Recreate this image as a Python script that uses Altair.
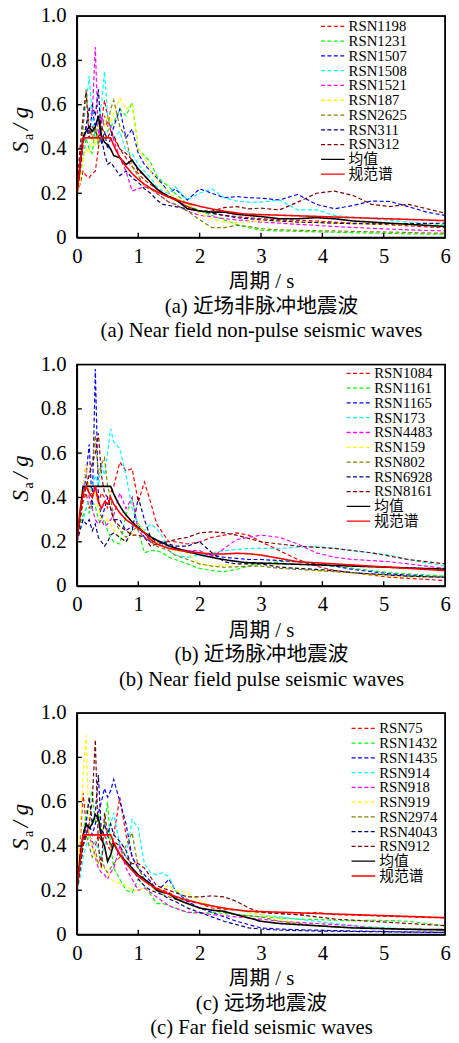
import altair as alt
import pandas as pd

# ---------------- data ----------------
T = [0, 0.05, 0.1, 0.15, 0.2, 0.25, 0.3, 0.35, 0.4, 0.45, 0.5, 0.55, 0.6, 0.7, 0.8, 0.9,
     1.0, 1.1, 1.2, 1.3, 1.4, 1.5, 1.6, 1.8, 2.0, 2.2, 2.4, 2.6, 2.8, 3.0, 3.3, 3.6, 3.9,
     4.2, 4.5, 4.8, 5.1, 5.4, 5.7, 6.0]

CODE_T = [0, 0.1, 0.55, 0.6, 0.65, 0.7, 0.75, 0.8, 0.9, 1.0, 1.1, 1.2, 1.3, 1.5, 1.75,
          2.0, 2.25, 2.5, 2.75, 6.0]
CODE_SA = [0.2025, 0.45, 0.45, 0.416, 0.387, 0.362, 0.340, 0.321, 0.289, 0.263, 0.241,
           0.223, 0.2075, 0.182, 0.159, 0.141, 0.1266, 0.115, 0.106, 0.0765]

# (a) near field non-pulse
A_NAMES = ["RSN1198", "RSN1231", "RSN1507", "RSN1508", "RSN1521", "RSN187", "RSN2625", "RSN311", "RSN312"]
A_RSN1198 = [0.2, 0.24, 0.3, 0.28, 0.27, 0.29, 0.3, 0.4, 0.52, 0.62, 0.55, 0.48, 0.45, 0.4, 0.36, 0.32, 0.29, 0.26, 0.24, 0.22, 0.2, 0.18, 0.17, 0.14, 0.12, 0.11, 0.1, 0.095, 0.09, 0.085, 0.08, 0.078, 0.075, 0.07, 0.065, 0.062, 0.058, 0.053, 0.048, 0.045]
A_RSN1231 = [0.2, 0.28, 0.35, 0.45, 0.4, 0.38, 0.5, 0.42, 0.46, 0.44, 0.48, 0.5, 0.52, 0.58, 0.55, 0.61, 0.4, 0.37, 0.34, 0.28, 0.25, 0.23, 0.2, 0.15, 0.12, 0.1, 0.08, 0.06, 0.045, 0.033, 0.03, 0.028, 0.026, 0.024, 0.022, 0.02, 0.019, 0.017, 0.016, 0.015]
A_RSN1507 = [0.2, 0.3, 0.42, 0.5, 0.45, 0.58, 0.5, 0.55, 0.42, 0.48, 0.4, 0.45, 0.5, 0.58, 0.45, 0.49, 0.38, 0.33, 0.3, 0.27, 0.24, 0.2, 0.22, 0.17, 0.22, 0.2, 0.18, 0.185, 0.18, 0.178, 0.17, 0.195, 0.15, 0.13, 0.145, 0.165, 0.163, 0.14, 0.115, 0.1]
A_RSN1508 = [0.2, 0.35, 0.5, 0.6, 0.73, 0.55, 0.45, 0.52, 0.6, 0.75, 0.55, 0.5, 0.45, 0.48, 0.39, 0.38, 0.33, 0.3, 0.27, 0.23, 0.21, 0.2, 0.23, 0.17, 0.2, 0.22, 0.18, 0.165, 0.16, 0.16, 0.17, 0.125, 0.125, 0.1, 0.092, 0.085, 0.078, 0.07, 0.063, 0.057]
A_RSN1521 = [0.2, 0.28, 0.42, 0.5, 0.58, 0.55, 0.86, 0.45, 0.55, 0.5, 0.52, 0.5, 0.44, 0.36, 0.3, 0.21, 0.22, 0.23, 0.22, 0.2, 0.18, 0.16, 0.15, 0.12, 0.1, 0.095, 0.085, 0.08, 0.075, 0.07, 0.065, 0.06, 0.055, 0.05, 0.046, 0.042, 0.038, 0.035, 0.032, 0.03]
A_RSN187 = [0.2, 0.25, 0.35, 0.4, 0.38, 0.45, 0.42, 0.5, 0.48, 0.5, 0.55, 0.52, 0.56, 0.63, 0.58, 0.6, 0.4, 0.36, 0.3, 0.26, 0.23, 0.2, 0.18, 0.15, 0.11, 0.085, 0.07, 0.068, 0.072, 0.075, 0.072, 0.07, 0.067, 0.065, 0.063, 0.061, 0.06, 0.058, 0.056, 0.055]
A_RSN2625 = [0.2, 0.3, 0.5, 0.67, 0.5, 0.45, 0.5, 0.42, 0.48, 0.55, 0.5, 0.58, 0.62, 0.5, 0.45, 0.32, 0.28, 0.23, 0.22, 0.2, 0.18, 0.16, 0.15, 0.12, 0.08, 0.045, 0.045, 0.055, 0.05, 0.04, 0.035, 0.033, 0.031, 0.03, 0.028, 0.026, 0.025, 0.023, 0.021, 0.02]
A_RSN311 = [0.2, 0.35, 0.45, 0.5, 0.58, 0.6, 0.55, 0.67, 0.45, 0.38, 0.33, 0.34, 0.32, 0.28, 0.3, 0.27, 0.25, 0.22, 0.2, 0.17, 0.15, 0.145, 0.14, 0.13, 0.12, 0.11, 0.1, 0.09, 0.085, 0.08, 0.075, 0.07, 0.068, 0.065, 0.063, 0.062, 0.062, 0.063, 0.064, 0.065]
A_RSN312 = [0.2, 0.4, 0.55, 0.66, 0.45, 0.5, 0.48, 0.45, 0.5, 0.47, 0.45, 0.48, 0.46, 0.4, 0.38, 0.35, 0.3, 0.28, 0.25, 0.22, 0.2, 0.19, 0.17, 0.14, 0.12, 0.12, 0.135, 0.14, 0.13, 0.133, 0.125, 0.16, 0.2, 0.21, 0.19, 0.15, 0.14, 0.15, 0.13, 0.11]
A_MEAN = [0.2, 0.32, 0.45, 0.48, 0.5, 0.48, 0.5, 0.55, 0.46, 0.43, 0.42, 0.4, 0.37, 0.36, 0.33, 0.35, 0.31, 0.28, 0.25, 0.22, 0.2, 0.185, 0.175, 0.13, 0.12, 0.115, 0.115, 0.105, 0.1, 0.095, 0.085, 0.085, 0.09, 0.085, 0.075, 0.07, 0.065, 0.06, 0.055, 0.05]

# (b) near field pulse
B_NAMES = ["RSN1084", "RSN1161", "RSN1165", "RSN173", "RSN4483", "RSN159", "RSN802", "RSN6928", "RSN8161"]
B_RSN1084 = [0.2, 0.3, 0.38, 0.42, 0.35, 0.4, 0.45, 0.38, 0.42, 0.4, 0.35, 0.42, 0.45, 0.56, 0.52, 0.53, 0.38, 0.47, 0.38, 0.28, 0.24, 0.2, 0.2, 0.19, 0.2, 0.22, 0.23, 0.24, 0.23, 0.2, 0.16, 0.12, 0.09, 0.07, 0.06, 0.05, 0.04, 0.035, 0.03, 0.025]
B_RSN1161 = [0.2, 0.28, 0.32, 0.35, 0.33, 0.38, 0.36, 0.3, 0.28, 0.3, 0.25, 0.22, 0.2, 0.19, 0.32, 0.4, 0.25, 0.15, 0.16, 0.16, 0.15, 0.13, 0.12, 0.1, 0.08, 0.07, 0.065, 0.075, 0.09, 0.1, 0.11, 0.11, 0.1, 0.09, 0.08, 0.07, 0.06, 0.055, 0.05, 0.045]
B_RSN1165 = [0.2, 0.3, 0.4, 0.5, 0.64, 0.35, 0.98, 0.4, 0.3, 0.35, 0.4, 0.35, 0.3, 0.3, 0.25, 0.27, 0.28, 0.22, 0.2, 0.2, 0.19, 0.18, 0.17, 0.16, 0.15, 0.14, 0.13, 0.125, 0.12, 0.12, 0.115, 0.11, 0.1, 0.09, 0.075, 0.065, 0.055, 0.05, 0.045, 0.04]
B_RSN173 = [0.2, 0.25, 0.3, 0.35, 0.4, 0.45, 0.5, 0.45, 0.55, 0.5, 0.6, 0.71, 0.65, 0.62, 0.5, 0.35, 0.28, 0.25, 0.28, 0.26, 0.22, 0.16, 0.14, 0.13, 0.14, 0.15, 0.16, 0.165, 0.17, 0.17, 0.17, 0.175, 0.18, 0.17, 0.16, 0.15, 0.14, 0.12, 0.105, 0.09]
B_RSN4483 = [0.2, 0.35, 0.45, 0.55, 0.4, 0.35, 0.3, 0.28, 0.3, 0.27, 0.28, 0.3, 0.32, 0.42, 0.35, 0.4, 0.25, 0.22, 0.2, 0.19, 0.18, 0.17, 0.17, 0.16, 0.16, 0.13, 0.17, 0.21, 0.22, 0.23, 0.22, 0.19, 0.15, 0.13, 0.12, 0.115, 0.11, 0.1, 0.09, 0.08]
B_RSN159 = [0.2, 0.35, 0.45, 0.55, 0.45, 0.4, 0.42, 0.35, 0.3, 0.32, 0.3, 0.28, 0.25, 0.22, 0.2, 0.24, 0.28, 0.25, 0.22, 0.2, 0.18, 0.17, 0.16, 0.15, 0.1, 0.09, 0.095, 0.1, 0.1, 0.1, 0.09, 0.08, 0.07, 0.065, 0.06, 0.05, 0.045, 0.042, 0.04, 0.04]
B_RSN802 = [0.2, 0.3, 0.4, 0.45, 0.5, 0.55, 0.68, 0.5, 0.55, 0.58, 0.45, 0.4, 0.3, 0.25, 0.22, 0.25, 0.27, 0.24, 0.2, 0.18, 0.17, 0.16, 0.14, 0.12, 0.1, 0.09, 0.085, 0.087, 0.09, 0.09, 0.08, 0.075, 0.07, 0.065, 0.06, 0.055, 0.05, 0.045, 0.042, 0.04]
B_RSN6928 = [0.2, 0.25, 0.3, 0.28, 0.3, 0.25, 0.28, 0.22, 0.2, 0.18, 0.2, 0.23, 0.24, 0.22, 0.2, 0.25, 0.4, 0.3, 0.22, 0.2, 0.2, 0.19, 0.18, 0.18, 0.2, 0.15, 0.11, 0.1, 0.1, 0.1, 0.085, 0.08, 0.075, 0.07, 0.06, 0.055, 0.05, 0.045, 0.042, 0.04]
B_RSN8161 = [0.2, 0.3, 0.4, 0.45, 0.5, 0.55, 0.6, 0.69, 0.5, 0.42, 0.4, 0.35, 0.3, 0.27, 0.25, 0.23, 0.23, 0.22, 0.18, 0.19, 0.2, 0.2, 0.21, 0.22, 0.24, 0.245, 0.24, 0.23, 0.215, 0.2, 0.19, 0.18, 0.175, 0.17, 0.16, 0.15, 0.135, 0.12, 0.11, 0.1]
B_RED = [0.2, 0.33, 0.42, 0.45, 0.42, 0.4, 0.45, 0.38, 0.35, 0.38, 0.37, 0.4, 0.37, 0.33, 0.3, 0.28, 0.26, 0.24, 0.21, 0.19, 0.18, 0.17, 0.165, 0.155, 0.15, 0.145, 0.145, 0.148, 0.146, 0.14, 0.125, 0.11, 0.105, 0.1, 0.095, 0.09, 0.085, 0.08, 0.075, 0.07]

# (c) far field
C_NAMES = ["RSN75", "RSN1432", "RSN1435", "RSN914", "RSN918", "RSN919", "RSN2974", "RSN4043", "RSN912"]
C_RSN75 = [0.2, 0.4, 0.64, 0.5, 0.45, 0.42, 0.4, 0.45, 0.42, 0.45, 0.4, 0.38, 0.45, 0.62, 0.45, 0.35, 0.3, 0.25, 0.23, 0.21, 0.2, 0.19, 0.17, 0.15, 0.14, 0.12, 0.115, 0.11, 0.105, 0.1, 0.095, 0.09, 0.1, 0.09, 0.088, 0.085, 0.082, 0.08, 0.077, 0.075]
C_RSN1432 = [0.2, 0.35, 0.45, 0.55, 0.6, 0.65, 0.5, 0.55, 0.45, 0.5, 0.6, 0.4, 0.3, 0.25, 0.2, 0.19, 0.25, 0.22, 0.18, 0.14, 0.14, 0.13, 0.12, 0.1, 0.095, 0.1, 0.095, 0.09, 0.085, 0.08, 0.075, 0.07, 0.068, 0.065, 0.062, 0.065, 0.063, 0.06, 0.05, 0.04]
C_RSN1435 = [0.2, 0.3, 0.4, 0.45, 0.5, 0.45, 0.5, 0.55, 0.6, 0.66, 0.62, 0.65, 0.7, 0.6, 0.5, 0.35, 0.3, 0.27, 0.24, 0.2, 0.22, 0.25, 0.2, 0.15, 0.12, 0.1, 0.08, 0.06, 0.045, 0.03, 0.025, 0.022, 0.02, 0.018, 0.016, 0.015, 0.013, 0.012, 0.011, 0.01]
C_RSN914 = [0.2, 0.25, 0.35, 0.4, 0.45, 0.4, 0.42, 0.38, 0.35, 0.4, 0.45, 0.5, 0.55, 0.4, 0.35, 0.52, 0.48, 0.32, 0.28, 0.27, 0.28, 0.26, 0.2, 0.16, 0.14, 0.13, 0.12, 0.11, 0.1, 0.09, 0.08, 0.07, 0.06, 0.05, 0.04, 0.035, 0.03, 0.025, 0.022, 0.02]
C_RSN918 = [0.2, 0.35, 0.45, 0.5, 0.45, 0.4, 0.35, 0.3, 0.28, 0.27, 0.25, 0.28, 0.3, 0.4, 0.3, 0.25, 0.2, 0.21, 0.19, 0.17, 0.15, 0.13, 0.12, 0.1, 0.1, 0.09, 0.085, 0.08, 0.075, 0.07, 0.06, 0.055, 0.05, 0.045, 0.04, 0.03, 0.025, 0.022, 0.02, 0.02]
C_RSN919 = [0.2, 0.45, 0.72, 0.9, 0.45, 0.4, 0.35, 0.32, 0.3, 0.3, 0.28, 0.25, 0.24, 0.23, 0.22, 0.2, 0.2, 0.21, 0.2, 0.2, 0.21, 0.22, 0.2, 0.19, 0.15, 0.13, 0.12, 0.11, 0.1, 0.09, 0.07, 0.05, 0.04, 0.035, 0.03, 0.03, 0.025, 0.022, 0.02, 0.02]
C_RSN2974 = [0.2, 0.3, 0.4, 0.45, 0.4, 0.35, 0.38, 0.32, 0.35, 0.3, 0.28, 0.3, 0.32, 0.35, 0.4, 0.46, 0.3, 0.25, 0.22, 0.2, 0.18, 0.17, 0.16, 0.14, 0.12, 0.11, 0.1, 0.09, 0.085, 0.08, 0.06, 0.05, 0.04, 0.035, 0.032, 0.03, 0.027, 0.025, 0.022, 0.02]
C_RSN4043 = [0.2, 0.3, 0.4, 0.5, 0.62, 0.5, 0.55, 0.72, 0.45, 0.5, 0.45, 0.5, 0.45, 0.42, 0.38, 0.3, 0.25, 0.22, 0.2, 0.19, 0.18, 0.16, 0.15, 0.12, 0.1, 0.08, 0.06, 0.045, 0.03, 0.025, 0.02, 0.018, 0.016, 0.015, 0.014, 0.013, 0.012, 0.011, 0.01, 0.01]
C_RSN912 = [0.2, 0.3, 0.4, 0.45, 0.5, 0.6, 0.88, 0.4, 0.3, 0.55, 0.45, 0.4, 0.42, 0.4, 0.35, 0.32, 0.32, 0.3, 0.26, 0.22, 0.21, 0.2, 0.19, 0.17, 0.17, 0.175, 0.17, 0.15, 0.12, 0.1, 0.095, 0.09, 0.08, 0.07, 0.065, 0.06, 0.055, 0.05, 0.045, 0.04]
C_MEAN = [0.2, 0.35, 0.45, 0.5, 0.48, 0.5, 0.54, 0.53, 0.43, 0.4, 0.33, 0.36, 0.41, 0.36, 0.33, 0.3, 0.27, 0.25, 0.23, 0.2, 0.19, 0.185, 0.163, 0.14, 0.12, 0.11, 0.105, 0.09, 0.075, 0.06, 0.05, 0.045, 0.04, 0.035, 0.03, 0.028, 0.026, 0.024, 0.023, 0.022]

MEAN_LABEL = "均值"
CODE_LABEL = "规范谱"
COLORS = ["#FF0000", "#00FF00", "#0000FF", "#00FFFF", "#FF00FF", "#FFFF00",
          "#808000", "#000080", "#800000", "#000000", "#FF0000"]
X_TICKS = [0, 1, 2, 3, 4, 5, 6]
Y_TICKS = [0, 0.2, 0.4, 0.6, 0.8, 1.0]
X_IN = [1, 2, 3, 4, 5]
Y_IN = [0.2, 0.4, 0.6, 0.8]
X_RANGE = [0, 6]
Y_RANGE = [0, 1]
X_TITLE = "周期 / s"

# ---------------- styling ----------------
FONT = "Liberation Serif, Noto Sans CJK SC, serif"
W, H = 374, 225
DASH = [4, 2.5]
TICK_X_LEN = 0.022   # inward tick length on the x axis, in Sa units (about 5 px)
TICK_Y_LEN = 0.08    # inward tick length on the y axis, in T units (about 5 px)


def panel(names, series, black_t, black_v, red_t, red_v, cap1, cap2, lx, ly):
    rows = []
    for name, vals in zip(names, series):
        for t, v in zip(T, vals):
            rows.append({"T": t, "Sa": v, "s": name, "k": "d"})
    for t, v in zip(black_t, black_v):
        rows.append({"T": t, "Sa": v, "s": MEAN_LABEL, "k": "s"})
    for t, v in zip(red_t, red_v):
        rows.append({"T": t, "Sa": v, "s": CODE_LABEL, "k": "s"})
    df = pd.DataFrame(rows)
    domain = names + [MEAN_LABEL, CODE_LABEL]
    leg = alt.Legend(orient="none", legendX=lx, legendY=ly, title=None,
                     symbolType="stroke", symbolSize=576, symbolStrokeWidth=1.3,
                     clipHeight=13, rowPadding=-2.3, padding=0, labelOffset=3, labelLimit=200)
    xaxis = alt.Axis(values=X_TICKS, format="d", labelFlush=False, title=[X_TITLE, cap1, cap2])
    yaxis = alt.Axis(values=Y_TICKS, title=None,
                     labelExpr="datum.value == 0 ? '0' : format(datum.value, '.1f')")
    xs = alt.Scale(domain=X_RANGE, nice=False)
    ys = alt.Scale(domain=Y_RANGE, nice=False)
    X = alt.X("T:Q", scale=xs, axis=xaxis)
    Y = alt.Y("Sa:Q", scale=ys, axis=yaxis)
    enc = dict(
        x=X, y=Y,
        color=alt.Color("s:N", scale=alt.Scale(domain=domain, range=COLORS), legend=leg),
        strokeDash=alt.StrokeDash("s:N", scale=alt.Scale(domain=domain, range=[DASH] * 9 + [[1, 0], [1, 0]]),
                                  legend=leg),
    )

    base = alt.Chart(df)
    dashed = base.transform_filter("datum.k == 'd'").mark_line(strokeWidth=1.2).encode(**enc)
    solid = base.transform_filter("datum.k == 's'").mark_line(strokeWidth=1.6).encode(**enc)

    # plot frame traced along the axis extents
    fr = pd.DataFrame({"T": [X_RANGE[0], X_RANGE[1], X_RANGE[1], X_RANGE[0], X_RANGE[0]],
                       "Sa": [Y_RANGE[0], Y_RANGE[0], Y_RANGE[1], Y_RANGE[1], Y_RANGE[0]],
                       "o": [0, 1, 2, 3, 4]})
    frame = alt.Chart(fr).mark_line(color="#000000", strokeWidth=1.5).encode(x=X, y=Y, order="o:Q")

    # inward ticks as short two-point segments
    tk = []
    for t in X_IN:
        tk.append({"T": t, "Sa": Y_RANGE[0], "g": f"x{t}"})
        tk.append({"T": t, "Sa": Y_RANGE[0] + TICK_X_LEN, "g": f"x{t}"})
    for v in Y_IN:
        tk.append({"T": X_RANGE[0], "Sa": v, "g": f"y{v}"})
        tk.append({"T": X_RANGE[0] + TICK_Y_LEN, "Sa": v, "g": f"y{v}"})
    ticks = alt.Chart(pd.DataFrame(tk)).mark_line(color="#000000", strokeWidth=1.4).encode(
        x=X, y=Y, detail="g:N")

    one = alt.Data(values=[{"k": 1}])
    t_s = alt.Chart(one).mark_text(text="S", angle=270, align="left", baseline="alphabetic",
                                   font=FONT, fontSize=23, fontStyle="italic", color="black").encode(
        x=alt.value(-50), y=alt.value(139))
    t_a = alt.Chart(one).mark_text(text="a", angle=270, align="left", baseline="alphabetic",
                                   font=FONT, fontSize=14, color="black").encode(
        x=alt.value(-45), y=alt.value(126))
    t_g = alt.Chart(one).mark_text(text="/ g", angle=270, align="left", baseline="alphabetic",
                                   font=FONT, fontSize=23, fontStyle="italic", color="black").encode(
        x=alt.value(-50), y=alt.value(116))

    return alt.layer(dashed, solid, ticks, frame, t_s, t_a, t_g).properties(width=W, height=H)


pa = panel(A_NAMES, [A_RSN1198, A_RSN1231, A_RSN1507, A_RSN1508, A_RSN1521, A_RSN187, A_RSN2625, A_RSN311, A_RSN312],
           T, A_MEAN, CODE_T, CODE_SA,
           "(a) 近场非脉冲地震波", "(a) Near field non-pulse seismic waves", 247, 4)
pb = panel(B_NAMES, [B_RSN1084, B_RSN1161, B_RSN1165, B_RSN173, B_RSN4483, B_RSN159, B_RSN802, B_RSN6928, B_RSN8161],
           CODE_T, CODE_SA, T, B_RED,
           "(b) 近场脉冲地震波", "(b) Near field pulse seismic waves", 273, 2.5)
pc = panel(C_NAMES, [C_RSN75, C_RSN1432, C_RSN1435, C_RSN914, C_RSN918, C_RSN919, C_RSN2974, C_RSN4043, C_RSN912],
           T, C_MEAN, CODE_T, CODE_SA,
           "(c) 远场地震波", "(c) Far field seismic waves", 278, 9)

chart = alt.vconcat(pa, pb, pc, spacing=11).resolve_scale(
    color="independent", strokeDash="independent"
).properties(
    padding={"left": 1, "top": -12, "right": 0, "bottom": 0}, background="white"
).configure_view(
    stroke="#000000", strokeWidth=1.4
).configure_axis(
    grid=False, domain=True, domainColor="#000000", domainWidth=1.4, ticks=False,
    labelFont=FONT, labelFontSize=21, labelColor="black",
    titleFont=FONT, titleFontSize=21, titleFontWeight="normal", titleColor="black",
).configure_axisX(
    labelPadding=8, titlePadding=5, titleLineHeight=25
).configure_axisY(
    labelPadding=11
).configure_legend(
    labelFont=FONT, labelFontSize=15, labelColor="black"
)

chart.save("out.html", embed_options={"renderer": "svg", "actions": False})
